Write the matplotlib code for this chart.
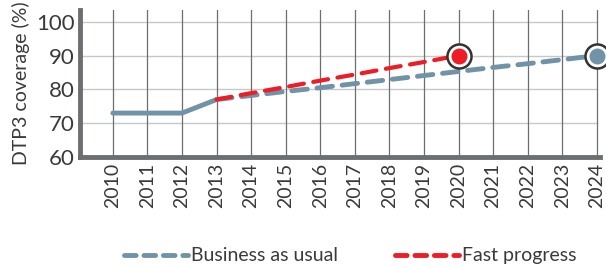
import matplotlib
matplotlib.use("Agg")
import matplotlib.pyplot as plt
from matplotlib.lines import Line2D

plt.rcParams['font.family'] = ['Lato', 'DejaVu Sans']

years_hist = [2010, 2011, 2012, 2013]
cov_hist = [73, 73, 73, 77]

years_bau = [2013, 2014, 2015, 2016, 2017, 2018, 2019, 2020, 2021, 2022, 2023, 2024]
cov_bau = [77, 78.2, 79.4, 80.5, 81.7, 82.9, 84.1, 85.3, 86.5, 87.6, 88.8, 90]

years_fast = [2013, 2014, 2015, 2016, 2017, 2018, 2019, 2020]
cov_fast = [77, 78.9, 80.7, 82.6, 84.4, 86.3, 88.1, 90]

xticks = list(range(2010, 2025))
yticks = [60, 70, 80, 90, 100]

BLUE = '#7193a7'
RED = '#ee1c25'
DARK = '#6d6e71'
TXT = '#3a3a3a'

fig = plt.figure(figsize=(6.06, 2.68), dpi=100)
ax = fig.add_axes([0.132, 0.414, 0.858, 0.549])

ax.set_xlim(2009.05, 2024.09)
ax.set_ylim(60, 103.5)

for y in yticks[1:]:
    ax.plot([2009.05, 2024], [y, y], color='#c8c8c8', lw=1.0, zorder=1)
for x in xticks:
    ax.axvline(x, color='#6d6e71', lw=0.9, zorder=1)

ax.plot(years_hist, cov_hist, color=BLUE, lw=3.5, solid_capstyle='round', zorder=3)
ax.plot(years_bau, cov_bau, color=BLUE, lw=3.5, dashes=(3.2, 2.0), dash_capstyle='round', zorder=3)
ax.plot(years_fast, cov_fast, color=RED, lw=3.0, dashes=(3.6, 2.3), dash_capstyle='round', zorder=4)

ax.scatter([years_fast[-1]], [cov_fast[-1]], s=300, facecolor='white', edgecolor='#333333', linewidth=1.8, zorder=5, clip_on=False)
ax.scatter([years_fast[-1]], [cov_fast[-1]], s=110, color=RED, zorder=6, clip_on=False)
ax.scatter([years_bau[-1]], [cov_bau[-1]], s=300, facecolor='white', edgecolor='#333333', linewidth=1.8, zorder=5, clip_on=False)
ax.scatter([years_bau[-1]], [cov_bau[-1]], s=110, color=BLUE, zorder=6, clip_on=False)

ax.set_xticks(xticks)
ax.set_xticklabels([str(x) for x in xticks], rotation=90, fontsize=14, color=TXT)
ax.set_yticks(yticks)
ax.set_yticklabels([str(y) for y in yticks], fontsize=16, color=TXT)
ax.tick_params(length=0, pad=4)
ax.set_ylabel('DTP3 coverage (%)', fontsize=14, color=TXT, labelpad=4)

for s in ['top', 'right']:
    ax.spines[s].set_visible(False)
for s in ['left', 'bottom']:
    ax.spines[s].set_color(DARK)
    ax.spines[s].set_linewidth(3.5)
    ax.spines[s].set_zorder(7)

handles = [Line2D([], [], color=BLUE, lw=3.5, dashes=(2.4, 1.6), dash_capstyle='round'),
           Line2D([], [], color=RED, lw=3.5, dashes=(2.4, 1.6), dash_capstyle='round')]
fig.legend(handles, ['Business as usual', 'Fast progress'], loc='center', bbox_to_anchor=(0.578, 0.045),
           ncol=2, frameon=False, handlelength=3.3, handletextpad=0.15, columnspacing=2.9,
           prop={'size': 14})
for t in fig.legends[0].get_texts():
    t.set_color(TXT)

fig.savefig('out.png', dpi=100)
